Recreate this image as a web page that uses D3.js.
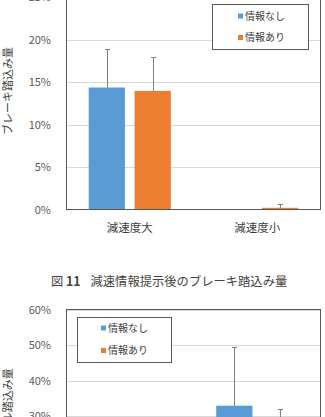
<!DOCTYPE html>
<html>
<head>
<meta charset="utf-8">
<script src="https://cdn.jsdelivr.net/npm/d3@7"></script>
<style>
  body { margin: 0; background: #fff; }
  text { font-family: "Noto Sans CJK JP", "Noto Sans", sans-serif; }
</style>
</head>
<body>
<script>
// Categories and series
var categories = ['減速度大', '減速度小'];
var seriesNames = ['情報なし', '情報あり'];
var seriesColors = ['#5B9BD5', '#ED7D31'];

// Fig 11: brake pedal (values and + error, %)
var brakeNone = [14.35, 0];
var brakeWith = [13.95, 0.2];
var brakeNoneErr = [4.55, 0];
var brakeWithErr = [3.95, 0.4];
var brakeTicks = [0, 5, 10, 15, 20, 25];

// Fig 12: accelerator pedal (values and + error, %)
var accelNone = [4.0, 32.9];
var accelWith = [3.5, 26.0];
var accelNoneErr = [3.0, 16.5];
var accelWithErr = [2.5, 6.0];
var accelTicks = [0, 10, 20, 30, 40, 50, 60];

var caption = '減速情報提示後のブレーキ踏込み量';

var W = 325, H = 417;
var svg = d3.select('body').append('svg')
    .attr('width', W)
    .attr('height', H);

svg.append('rect').attr('width', W).attr('height', H).attr('fill', '#fff');

var plotLeft = 66, plotRight = 321;

var x0 = d3.scaleBand().domain(categories).range([plotLeft, plotRight]);
var x1 = d3.scaleBand().domain(seriesNames)
    .range([0, x0.bandwidth()])
    .paddingInner(0.21)
    .paddingOuter(0.495);

function drawChart(opt) {
    var y = opt.y;
    var g = svg.append('g');
    var y0 = y.range()[0], yTop = y.range()[1];

    // gridlines
    g.append('g')
        .attr('transform', 'translate(' + plotLeft + ',0)')
        .call(d3.axisLeft(y).tickValues(opt.ticks.slice(1)).tickSize(-(plotRight - plotLeft)).tickFormat(''))
        .call(function(s) {
            s.select('.domain').remove();
            s.selectAll('line').attr('stroke', '#d9d9d9').attr('shape-rendering', 'crispEdges');
        });

    // tick labels
    g.append('g')
        .attr('transform', 'translate(' + (plotLeft - 12) + ',0)')
        .call(d3.axisLeft(y).tickValues(opt.ticks).tickSize(0).tickFormat(function(d) { return d + '%'; }))
        .call(function(s) {
            s.select('.domain').remove();
            s.selectAll('text').attr('fill', '#595959').style('font-size', '11px')
                .attr('font-family', '"Noto Sans CJK JP", sans-serif');
        });

    // bars
    var rows = [];
    categories.forEach(function(c, i) {
        rows.push({cat: c, s: 0, v: opt.none[i], e: opt.noneErr[i]});
        rows.push({cat: c, s: 1, v: opt.with[i], e: opt.withErr[i]});
    });

    g.selectAll('rect.bar').data(rows.filter(function(d) { return d.v > 0; }))
        .enter().append('rect')
        .attr('class', 'bar')
        .attr('x', function(d) { return x0(d.cat) + x1(seriesNames[d.s]); })
        .attr('width', x1.bandwidth())
        .attr('y', function(d) { return y(d.v); })
        .attr('height', function(d) { return y(0) - y(d.v); })
        .attr('fill', function(d) { return seriesColors[d.s]; });

    // error bars (plus only)
    var eb = g.selectAll('g.err').data(rows.filter(function(d) { return d.e > 0; }))
        .enter().append('g').attr('class', 'err');
    var cx = function(d) { return Math.round(x0(d.cat) + x1(seriesNames[d.s]) + x1.bandwidth() / 2) + 0.5; };
    eb.append('line')
        .attr('x1', cx).attr('x2', cx)
        .attr('y1', function(d) { return y(d.v); })
        .attr('y2', function(d) { return y(d.v + d.e); })
        .attr('stroke', '#7f7f7f');
    eb.append('line')
        .attr('x1', function(d) { return cx(d) - 2.5; })
        .attr('x2', function(d) { return cx(d) + 2.5; })
        .attr('y1', function(d) { return Math.round(y(d.v + d.e)) + 0.5; })
        .attr('y2', function(d) { return Math.round(y(d.v + d.e)) + 0.5; })
        .attr('stroke', '#7f7f7f');

    // plot border
    g.append('rect')
        .attr('x', plotLeft + 0.5).attr('y', yTop)
        .attr('width', plotRight - plotLeft - 1)
        .attr('height', y0 - yTop)
        .attr('fill', 'none')
        .attr('stroke', '#595959');

    // category labels
    g.append('g')
        .attr('transform', 'translate(0,' + (y0 + 11) + ')')
        .call(d3.axisBottom(x0).tickSize(0))
        .call(function(s) {
            s.select('.domain').remove();
            s.selectAll('text').attr('fill', '#404040').style('font-size', '11.5px')
                .attr('font-family', '"Noto Sans CJK JP", sans-serif');
        });

    // y title
    g.append('text')
        .attr('transform', 'translate(12,' + opt.titleY + ') rotate(-90)')
        .attr('text-anchor', 'middle')
        .attr('fill', '#404040')
        .style('font-size', '11px')
        .text(opt.title);

    // legend
    var lg = g.append('g').attr('transform', 'translate(' + opt.legend[0] + ',' + opt.legend[1] + ')');
    lg.append('rect')
        .attr('x', 0.5).attr('y', 0.5)
        .attr('width', opt.legend[2]).attr('height', opt.legend[3])
        .attr('fill', '#fff').attr('stroke', '#595959');
    seriesNames.forEach(function(name, i) {
        var ry = opt.legendRows[i];
        lg.append('rect')
            .attr('x', opt.legendMark).attr('y', ry - 2.5)
            .attr('width', 5).attr('height', 5)
            .attr('fill', seriesColors[i]);
        lg.append('text')
            .attr('x', opt.legendMark + 7).attr('y', ry)
            .attr('dy', '0.35em')
            .attr('fill', '#404040')
            .style('font-size', '10px')
            .text(name);
    });
}

// Fig 11 (top, cut off at top edge)
drawChart({
    y: d3.scaleLinear().domain([0, 25]).range([209.5, -3]),
    ticks: brakeTicks,
    none: brakeNone, with: brakeWith, noneErr: brakeNoneErr, withErr: brakeWithErr,
    title: 'ブレーキ踏込み量', titleY: 91,
    legend: [212, 4, 96, 45], legendRows: [12, 33.5], legendMark: 26
});

// caption
var cap = svg.append('text')
    .attr('x', 51).attr('y', 285.5)
    .attr('fill', '#444')
    .style('font-size', '12.3px');
cap.append('tspan').text('図 ');
cap.append('tspan').attr('font-weight', 'bold').text('11');
svg.append('text')
    .attr('x', 90.5).attr('y', 285.5)
    .attr('fill', '#444')
    .style('font-size', '12.3px')
    .text(caption);

// Fig 12 (bottom, cut off at bottom edge)
drawChart({
    y: d3.scaleLinear().domain([0, 60]).range([522.5, 309.5]),
    ticks: accelTicks,
    none: accelNone, with: accelWith, noneErr: accelNoneErr, withErr: accelWithErr,
    title: 'アクセル踏込み量', titleY: 412,
    legend: [77, 317, 94, 45], legendRows: [11, 33.5], legendMark: 24
});
</script>
</body>
</html>
